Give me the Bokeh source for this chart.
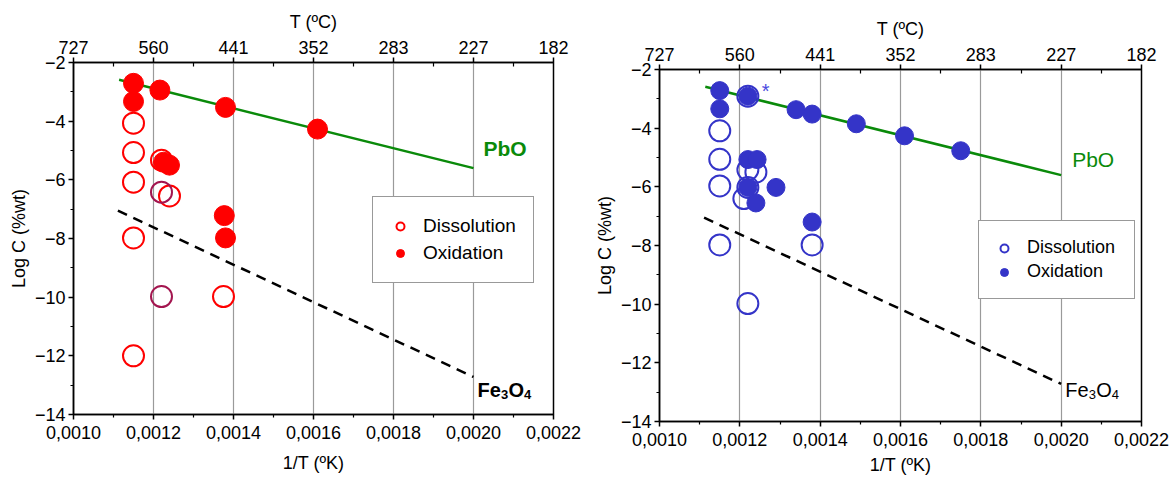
from bokeh.plotting import figure
from bokeh.models import (Range1d, LinearAxis, FixedTicker, Legend, LegendItem, Label, Spacer)
from bokeh.layouts import row, column
from bokeh.embed import file_html
from bokeh.resources import INLINE

# ---------------- data ----------------
x_ticks = [0.0010, 0.0012, 0.0014, 0.0016, 0.0018, 0.0020, 0.0022]
x_minor = [0.0011, 0.0013, 0.0015, 0.0017, 0.0019, 0.0021]
bottom_labels = ["0,0010", "0,0012", "0,0014", "0,0016", "0,0018", "0,0020", "0,0022"]
top_labels = ["727", "560", "441", "352", "283", "227", "182"]
y_ticks = [-2, -4, -6, -8, -10, -12, -14]
y_minor = [-3, -5, -7, -9, -11, -13]
grid_x = [0.0012, 0.0014, 0.0016, 0.0018, 0.0020]

# PbO solubility line and Fe3O4 line (same in both panels)
pbo_x = [0.001114, 0.0020]
pbo_y = [-2.59, -5.60]
fe_x = [0.001111, 0.0020]
fe_y = [-7.05, -12.72]

# left panel (red)
L_diss_x = [0.00115, 0.00115, 0.00115, 0.00115, 0.00115, 0.00122, 0.00124, 0.001375]
L_diss_y = [-4.07, -5.07, -6.08, -7.98, -12.0, -5.33, -6.55, -9.98]
L_diss2_x = [0.00122, 0.00122]
L_diss2_y = [-6.42, -9.98]
L_oxid_x = [0.00115, 0.00115, 0.001216, 0.00138, 0.00161, 0.001225, 0.00124, 0.001377, 0.00138]
L_oxid_y = [-2.71, -3.33, -2.94, -3.53, -4.27, -5.40, -5.50, -7.22, -7.98]

# right panel (blue)
R_diss_x = [0.00115, 0.00115, 0.00115, 0.00115, 0.00122, 0.00122, 0.00124, 0.00122, 0.00121, 0.00122, 0.00138]
R_diss_y = [-4.09, -5.06, -5.97, -7.98, -2.91, -5.42, -5.50, -6.02, -6.40, -9.98, -7.98]
R_oxid_x = [0.00115, 0.00115, 0.00122, 0.00134, 0.00138, 0.00149, 0.00161, 0.00175,
            0.00122, 0.001243, 0.00122, 0.00124, 0.00129, 0.00138]
R_oxid_y = [-2.72, -3.34, -2.91, -3.37, -3.52, -3.85, -4.26, -4.77,
            -5.07, -5.07, -6.02, -6.55, -6.02, -7.20]

FONT = "Liberation Sans"
RED = "#ff0000"
BLUE = "#3434c8"
GREEN = "#0a8a0a"


def make_panel(left_border, right_border, top_border, bottom_border, frame_w, xlab_standoff):
    p = figure(frame_width=frame_w, frame_height=352,
               min_border_left=left_border, min_border_right=right_border,
               min_border_top=top_border, min_border_bottom=bottom_border,
               x_range=Range1d(0.0010, 0.0022), y_range=Range1d(-14, -2),
               output_backend="svg", toolbar_location=None,
               x_axis_label="1/T (ºK)", y_axis_label="Log C (%wt)")
    p.outline_line_color = "black"
    p.outline_line_width = 1.5
    p.background_fill_color = "white"
    p.border_fill_color = "white"
    p.ygrid.visible = False
    p.xgrid.ticker = FixedTicker(ticks=grid_x)
    p.xgrid.grid_line_color = "#9a9a9a"
    p.xgrid.grid_line_width = 1.2

    xa = p.xaxis[0]
    xa.ticker = FixedTicker(ticks=x_ticks, minor_ticks=x_minor)
    xa.major_label_overrides = {t: l for t, l in zip(x_ticks, bottom_labels)}
    ya = p.yaxis[0]
    ya.ticker = FixedTicker(ticks=y_ticks, minor_ticks=y_minor)

    top = LinearAxis(axis_label="T (ºC)")
    top.ticker = FixedTicker(ticks=x_ticks, minor_ticks=x_minor)
    top.major_label_overrides = {t: l for t, l in zip(x_ticks, top_labels)}
    p.add_layout(top, "above")

    for ax in (xa, ya, top):
        ax.axis_line_color = "black"
        ax.axis_line_width = 1.5
        ax.major_tick_line_color = "black"
        ax.major_tick_line_width = 1.5
        ax.minor_tick_line_color = "black"
        ax.minor_tick_line_width = 1.2
        ax.major_tick_in = 0
        ax.major_tick_out = 5
        ax.minor_tick_in = 0
        ax.minor_tick_out = 3
        ax.major_label_text_font = FONT
        ax.major_label_text_font_size = "18px"
        ax.major_label_text_color = "black"
        ax.axis_label_text_font = FONT
        ax.axis_label_text_font_size = "18px"
        ax.axis_label_text_font_style = "normal"
        ax.axis_label_text_color = "black"
        ax.major_label_standoff = 3
        ax.axis_label_standoff = 3
    xa.major_label_standoff = 6
    xa.axis_label_standoff = xlab_standoff
    top.major_label_standoff = 4
    top.axis_label_standoff = 6
    top.minor_tick_out = 0
    top.minor_tick_in = 4
    return p


# ---------------- left panel ----------------
p1 = make_panel(73, 38, 62, 64, 480, 11)
p1.line(pbo_x, pbo_y, line_color=GREEN, line_width=2.5)
p1.line(fe_x, fe_y, line_color="black", line_width=2.5, line_dash="10 7")
r_ld = p1.scatter(L_diss_x, L_diss_y, marker="circle", size=21, fill_color=None,
                  line_color=RED, line_width=2)
p1.scatter(L_diss2_x, L_diss2_y, marker="circle", size=21, fill_color=None,
           line_color="#a3154f", line_width=2)
r_lo = p1.scatter(L_oxid_x, L_oxid_y, marker="circle", size=20, fill_color=RED,
                  line_color=RED, line_width=1)

p1.add_layout(Label(x=pbo_x[-1], y=pbo_y[-1], x_offset=10, y_offset=20, text="PbO",
                    text_font=FONT, text_font_size="21px", text_font_style="bold",
                    text_color=GREEN, text_baseline="middle", text_align="left"))
fe_parts = [("Fe", 4, 0, "20px"), ("3", 27.5, -5, "13px"), ("O", 35, 0, "20px"), ("4", 50.5, -5, "13px")]
for txt, dx, dy, fs in fe_parts:
    p1.add_layout(Label(x=fe_x[-1], y=fe_y[-1], x_offset=dx, y_offset=-13 + dy, text=txt,
                        text_font=FONT, text_font_size=fs, text_font_style="bold",
                        text_color="black", text_baseline="alphabetic", text_align="left"))

leg1 = Legend(items=[LegendItem(label="Dissolution", renderers=[r_ld]),
                     LegendItem(label="Oxidation", renderers=[r_lo])],
              location=(299, 131), padding=17, spacing=3,
              glyph_width=20, glyph_height=20, label_standoff=13,
              label_height=24, label_width=90,
              label_text_font=FONT, label_text_font_size="19px", label_text_color="black",
              border_line_color="#333333", border_line_width=1.2,
              background_fill_color="white", background_fill_alpha=1.0)
p1.add_layout(leg1, "center")

# ---------------- right panel ----------------
p2 = make_panel(66, 33, 62, 57, 482, 6)
p2.line(pbo_x, pbo_y, line_color=GREEN, line_width=2.5)
p2.line(fe_x, fe_y, line_color="black", line_width=2.5, line_dash="10 7")
r_rd = p2.scatter(R_diss_x, R_diss_y, marker="circle", size=21, fill_color=None,
                  line_color=BLUE, line_width=2)
r_ro = p2.scatter(R_oxid_x, R_oxid_y, marker="circle", size=18, fill_color=BLUE,
                  line_color=BLUE, line_width=1)

p2.add_layout(Label(x=pbo_x[-1], y=pbo_y[-1], x_offset=11, y_offset=16, text="PbO",
                    text_font=FONT, text_font_size="21px", text_font_style="normal",
                    text_color=GREEN, text_baseline="middle", text_align="left"))
for txt, dx, dy, fs in fe_parts:
    p2.add_layout(Label(x=fe_x[-1], y=fe_y[-1], x_offset=dx, y_offset=-6 + dy, text=txt,
                        text_font=FONT, text_font_size=fs, text_font_style="normal",
                        text_color="black", text_baseline="alphabetic", text_align="left"))
p2.add_layout(Label(x=R_oxid_x[2], y=R_oxid_y[2], x_offset=14, y_offset=-6, text="*",
                    text_font=FONT, text_font_size="20px", text_color="#4a4ae0",
                    text_baseline="bottom", text_align="left"))

leg2 = Legend(items=[LegendItem(label="Dissolution", renderers=[r_rd]),
                     LegendItem(label="Oxidation", renderers=[r_ro])],
              location=(319, 122), padding=15, spacing=1,
              glyph_width=20, glyph_height=20, label_standoff=13,
              label_height=23, label_width=92,
              label_text_font=FONT, label_text_font_size="18px", label_text_color="black",
              border_line_color="#333333", border_line_width=1.2,
              background_fill_color="white", background_fill_alpha=1.0)
p2.add_layout(leg2, "center")

layout = row(column(p1), column(Spacer(width=10, height=7), p2))
open("out.html", "w").write(file_html(layout, INLINE))
